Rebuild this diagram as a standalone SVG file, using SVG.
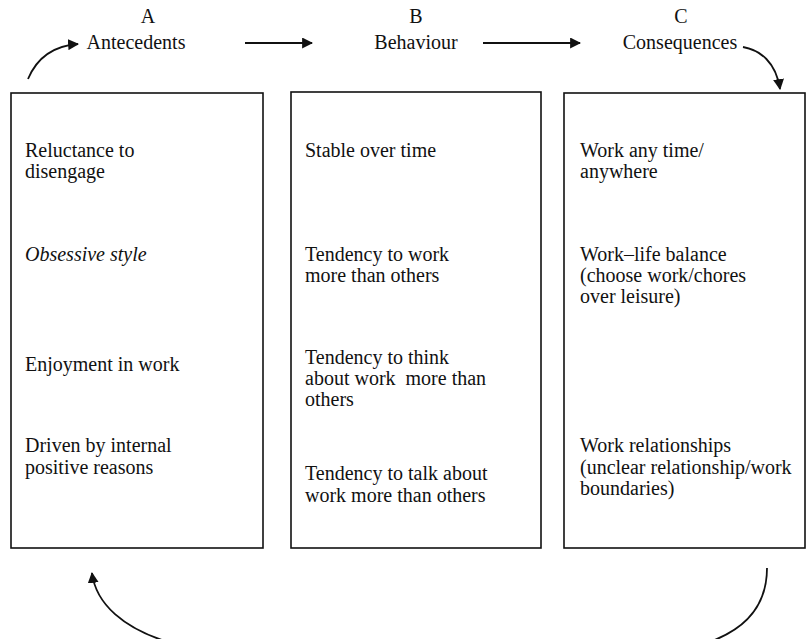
<svg xmlns="http://www.w3.org/2000/svg" width="806" height="639" viewBox="0 0 806 639">
<defs>
<marker id="ah" viewBox="0 0 10 10" refX="9" refY="5" markerWidth="11" markerHeight="11" markerUnits="userSpaceOnUse" orient="auto">
<path d="M0,0 L10,5 L0,10 z" fill="#111"/>
</marker>
<style>
text{font-family:"Liberation Serif","Times New Roman",serif;font-size:20px;fill:#111}
.h{text-anchor:middle}
.box{fill:none;stroke:#111;stroke-width:1.6}
.con{fill:none;stroke:#111;stroke-width:1.8;marker-end:url(#ah)}
</style>
</defs>
<rect width="806" height="639" fill="#fff"/>
<g id="headers">
<text class="h" x="148" y="23">A</text>
<text class="h" x="136" y="49">Antecedents</text>
<text class="h" x="416" y="23">B</text>
<text class="h" x="416" y="49">Behaviour</text>
<text class="h" x="681" y="23">C</text>
<text class="h" x="680" y="49">Consequences</text>
</g>
<g id="nodeA">
<rect class="box" x="11" y="93" width="252" height="455"/>
<text x="25" y="157">Reluctance to</text>
<text x="25" y="178">disengage</text>
<text x="25" y="261" font-style="italic">Obsessive style</text>
<text x="25" y="371">Enjoyment in work</text>
<text x="25" y="452">Driven by internal</text>
<text x="25" y="474">positive reasons</text>
</g>
<g id="nodeB">
<rect class="box" x="291" y="92" width="250" height="456"/>
<text x="305" y="157">Stable over time</text>
<text x="305" y="261">Tendency to work</text>
<text x="305" y="282">more than others</text>
<text x="305" y="364">Tendency to think</text>
<text x="305" y="385" xml:space="preserve">about work  more than</text>
<text x="305" y="406">others</text>
<text x="305" y="480">Tendency to talk about</text>
<text x="305" y="502">work more than others</text>
</g>
<g id="nodeC">
<rect class="box" x="564" y="93" width="241" height="455"/>
<text x="580" y="157">Work any time/</text>
<text x="580" y="178">anywhere</text>
<text x="580" y="261">Work–life balance</text>
<text x="580" y="282">(choose work/chores</text>
<text x="580" y="303">over leisure)</text>
<text x="580" y="452">Work relationships</text>
<text x="580" y="474">(unclear relationship/work</text>
<text x="580" y="495">boundaries)</text>
</g>
<g id="connectors">
<path class="con" d="M28,79 C36,60 50,46 78,44"/>
<path class="con" d="M245,43 L312,43"/>
<path class="con" d="M483,43 L580,43"/>
<path class="con" d="M743,47 C760,50 776,62 780,89"/>
<path class="con" d="M767,568 C767,600 752,626 712,641 L165,641 C125,628 96,605 92,573"/>
</g>
</svg>
